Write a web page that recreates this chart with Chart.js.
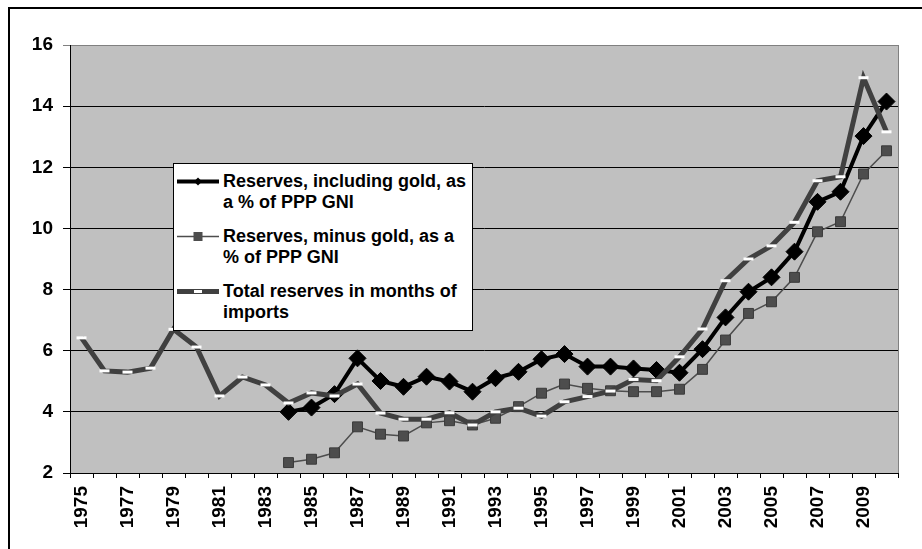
<!DOCTYPE html>
<html>
<head>
<meta charset="utf-8">
<script src="https://cdn.jsdelivr.net/npm/chart.js@4.4.1/dist/chart.umd.min.js"></script>
<style>
  body { margin: 0; background: #fff; }
  #wrap { position: relative; width: 922px; height: 549px; overflow: hidden; }
  #legend {
    position: absolute; left: 173px; top: 163px; width: 298px; height: 166px;
    border: 1px solid #000; background: #fff;
    font-family: "Liberation Sans", Arial, sans-serif; font-weight: bold; font-size: 18px;
    color: #000;
  }
  .entry { position: absolute; left: 0; line-height: 21px; }
  .entry svg { position: absolute; left: 3px; top: 0; }
  .entry .txt { position: absolute; left: 49px; top: 0; white-space: nowrap; }
</style>
</head>
<body>
<div id="wrap">
  <canvas id="myChart" width="922" height="549"></canvas>
  <div id="legend">
    <div class="entry" style="top:7px">
      <svg width="42" height="21"><line x1="0" y1="10.5" x2="42" y2="10.5" stroke="#000" stroke-width="4"/><polygon points="21,6.5 25,10.5 21,14.5 17,10.5" fill="#000"/></svg>
      <div class="txt" id="lab0"></div>
    </div>
    <div class="entry" style="top:62px">
      <svg width="42" height="21"><line x1="0" y1="10.5" x2="42" y2="10.5" stroke="#4d4d4d" stroke-width="1.5"/><rect x="16.5" y="6" width="9" height="9" fill="#4d4d4d"/></svg>
      <div class="txt" id="lab1"></div>
    </div>
    <div class="entry" style="top:117px">
      <svg width="42" height="21"><line x1="0" y1="10.5" x2="42" y2="10.5" stroke="#404040" stroke-width="5"/><rect x="17" y="9" width="8" height="3" fill="#fff"/></svg>
      <div class="txt" id="lab2"></div>
    </div>
  </div>
</div>
<script>
const years = ['1975','1976','1977','1978','1979','1980','1981','1982','1983','1984',
  '1985','1986','1987','1988','1989','1990','1991','1992','1993','1994',
  '1995','1996','1997','1998','1999','2000','2001','2002','2003','2004',
  '2005','2006','2007','2008','2009','2010'];

// reserves incl. gold, % of PPP GNI (1984 on)
const inclGold = [null,null,null,null,null,null,null,null,null,
  4.0,4.14,4.58,5.75,5.01,4.82,5.15,4.99,4.66,5.1,5.31,5.72,5.89,5.48,5.48,5.42,5.37,
  5.28,6.05,7.09,7.93,8.4,9.24,10.87,11.2,13.02,14.15];

// reserves minus gold, % of PPP GNI (1984 on)
const minusGold = [null,null,null,null,null,null,null,null,null,
  2.34,2.45,2.66,3.51,3.27,3.21,3.64,3.71,3.57,3.79,4.17,4.61,4.91,4.77,4.69,4.66,4.66,
  4.74,5.39,6.35,7.22,7.6,8.4,9.89,10.22,11.78,12.54];

// total reserves in months of imports
const monthsImports = [6.42,5.34,5.3,5.43,6.7,6.12,4.52,5.14,4.88,4.29,4.62,4.52,4.91,3.96,
  3.76,3.76,3.97,3.57,4.0,4.12,3.86,4.33,4.5,4.68,5.06,5.02,5.8,6.71,8.29,9.0,9.43,10.2,
  11.56,11.69,14.93,13.16];

const seriesNames = ['Reserves, including gold, as a % of PPP GNI',
  'Reserves, minus gold, as a % of PPP GNI',
  'Total reserves in months of imports'];
const legendLines = [['Reserves, including gold, as', 'a % of PPP GNI'],
  ['Reserves, minus gold, as a', '% of PPP GNI'],
  ['Total reserves in months of', 'imports']];

const yTicks = [2, 4, 6, 8, 10, 12, 14, 16];

legendLines.forEach((lines, i) => {
  document.getElementById('lab' + i).innerHTML = lines.join('<br>');
});

const font = "'Liberation Sans', Arial, sans-serif";

const plotBg = {
  id: 'plotBg',
  beforeDraw(chart) {
    const { ctx, chartArea: a } = chart;
    ctx.save();
    ctx.fillStyle = '#c0c0c0';
    ctx.fillRect(a.left, a.top, a.right - a.left, a.bottom - a.top);
    ctx.strokeStyle = '#808080';
    ctx.lineWidth = 1;
    ctx.strokeRect(a.left + 0.5, a.top + 0.5, a.right - a.left, a.bottom - a.top);
    // outer frame
    ctx.strokeStyle = '#000';
    ctx.lineWidth = 2;
    ctx.strokeRect(9, 8, 1000, 1000);
    ctx.restore();
  }
};

new Chart(document.getElementById('myChart'), {
  type: 'line',
  data: {
    labels: years,
    datasets: [{
      label: seriesNames[0],
      data: inclGold,
      borderColor: '#000',
      borderWidth: 4,
      pointStyle: 'rectRot',
      pointRadius: 8.5,
      pointBackgroundColor: '#000',
      pointBorderColor: '#000',
      pointBorderWidth: 1,
      tension: 0,
      order: 2
    }, {
      label: seriesNames[1],
      data: minusGold,
      borderColor: '#4d4d4d',
      borderWidth: 1.5,
      pointStyle: 'rect',
      pointRadius: 7,
      pointBackgroundColor: '#4d4d4d',
      pointBorderColor: '#3a3a3a',
      pointBorderWidth: 1,
      tension: 0,
      order: 1
    }, {
      label: seriesNames[2],
      data: monthsImports,
      borderColor: '#404040',
      borderWidth: 5,
      pointStyle: 'line',
      pointRadius: 5,
      pointBorderColor: '#fff',
      pointBorderWidth: 3,
      tension: 0,
      order: 0
    }]
  },
  options: {
    responsive: false,
    animation: false,
    layout: { padding: { top: 45, right: 24, left: 0, bottom: 0 } },
    plugins: {
      legend: { display: false },
      tooltip: { enabled: false }
    },
    scales: {
      x: {
        type: 'category',
        offset: true,
        grid: { offset: true, drawOnChartArea: false, color: '#000', tickLength: 5 },
        border: { color: '#000', width: 1 },
        ticks: {
          autoSkip: false,
          maxRotation: 90,
          minRotation: 90,
          padding: 8,
          color: '#000',
          font: { family: font, size: 19, weight: 'bold' },
          callback: function (value, index) {
            return index % 2 === 0 ? this.getLabelForValue(value) : '';
          }
        },
        afterFit(scale) { scale.height = 76; }
      },
      y: {
        min: 2,
        max: 16,
        afterBuildTicks(scale) { scale.ticks = yTicks.map(v => ({ value: v })); },
        grid: {
          color: ctx => (ctx.tick && ctx.tick.value === 16 ? '#808080' : '#000'),
          tickLength: 7,
          lineWidth: 1
        },
        border: { color: '#000', width: 1 },
        ticks: {
          padding: 10,
          color: '#000',
          font: { family: font, size: 19, weight: 'bold' }
        },
        afterFit(scale) { scale.width = 70; }
      }
    }
  },
  plugins: [plotBg]
});
</script>
</body>
</html>
